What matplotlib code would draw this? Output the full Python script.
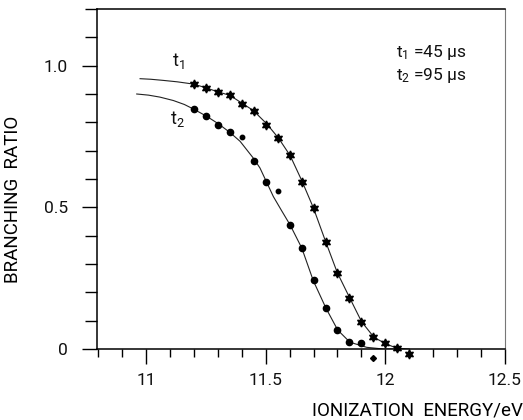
import numpy as np
import matplotlib
matplotlib.use('Agg')
import matplotlib.pyplot as plt
from matplotlib.ticker import MultipleLocator, FixedLocator

plt.rcParams['font.family'] = ['Roboto', 'DejaVu Sans']
plt.rcParams['mathtext.default'] = 'regular'
plt.rcParams['text.color'] = '#111111'

# measured points, t1 = 45 us (stars)
t1_x = [11.2, 11.25, 11.3, 11.35, 11.4, 11.45, 11.5, 11.55, 11.6, 11.65,
        11.7, 11.75, 11.8, 11.85, 11.9, 11.95, 12.0, 12.05, 12.1]
t1_y = [0.935, 0.921, 0.907, 0.895, 0.864, 0.841, 0.792, 0.744, 0.683, 0.591,
        0.497, 0.377, 0.270, 0.179, 0.095, 0.042, 0.023, 0.002, -0.018]

# measured points, t2 = 95 us (dots)
t2_x = [11.2, 11.25, 11.3, 11.35, 11.45, 11.5, 11.6, 11.65, 11.7, 11.75,
        11.8, 11.85, 11.9]
t2_y = [0.847, 0.821, 0.792, 0.766, 0.662, 0.588, 0.438, 0.356, 0.244, 0.144,
        0.067, 0.024, 0.022]
# the odd small ones
t2_small_x = [11.4, 11.55]
t2_small_y = [0.747, 0.556]
t2_low_x = [11.95]
t2_low_y = [-0.033]

# fitted curves
fit1_x = [10.975, 11.02, 11.072, 11.13, 11.198, 11.25, 11.295, 11.351, 11.40,
          11.448, 11.504, 11.553, 11.602, 11.651, 11.699, 11.748, 11.799,
          11.852, 11.901, 11.953, 12.003, 12.048, 12.1]
fit1_y = [0.954, 0.952, 0.948, 0.943, 0.935, 0.922, 0.909, 0.895, 0.868,
          0.842, 0.795, 0.745, 0.683, 0.594, 0.499, 0.385, 0.270,
          0.179, 0.096, 0.041, 0.018, 0.003, 0.0]
fit2_x = [10.961, 11.01, 11.058, 11.114, 11.16, 11.198, 11.254, 11.302, 11.351,
          11.393, 11.448, 11.476, 11.532, 11.566, 11.602, 11.651, 11.699,
          11.752, 11.801, 11.852, 11.922, 11.992, 12.05]
fit2_y = [0.900, 0.896, 0.889, 0.877, 0.863, 0.847, 0.821, 0.795, 0.764,
          0.733, 0.674, 0.639, 0.538, 0.489, 0.438, 0.356, 0.241,
          0.144, 0.067, 0.024, 0.006, 0.0, 0.0]

fig = plt.figure(figsize=(5.23, 4.2), dpi=100)
ax = fig.add_axes([0.1855, 0.169, 0.78, 0.8096])

ax.plot(fit1_x, fit1_y, color='#222222', lw=0.8)
ax.plot(fit2_x, fit2_y, color='#222222', lw=0.8)
ax.plot(t1_x, t1_y, linestyle='', marker=(6, 1, 0), ms=6.5, color='black', clip_on=False)
ax.plot(t2_x, t2_y, linestyle='', marker='o', ms=4.5, color='black', clip_on=False)
ax.plot(t2_small_x, t2_small_y, linestyle='', marker='o', ms=3.2, color='black')
ax.plot(t2_low_x, t2_low_y, linestyle='', marker='D', ms=3, color='black', clip_on=False)

ax.set_xlim(10.795, 12.5)
ax.set_ylim(0, 1.2)

ax.xaxis.set_major_locator(FixedLocator([11, 11.5, 12, 12.5]))
ax.xaxis.set_minor_locator(MultipleLocator(0.1))
ax.yaxis.set_major_locator(FixedLocator([0, 0.5, 1.0]))
ax.yaxis.set_minor_locator(MultipleLocator(0.1))
ax.set_xticklabels(['11', '11.5', '12', '12.5'])
ax.set_yticklabels(['0', '0.5', '1.0'])

ax.tick_params(axis='x', which='major', direction='out', length=11, width=1, pad=6,
               labelsize=12.5, labelcolor='#111111')
ax.tick_params(axis='x', which='minor', direction='out', length=6, width=1)
ax.tick_params(axis='y', which='major', direction='out', length=11, width=1, pad=10,
               labelsize=12.5, labelcolor='#111111')
ax.tick_params(axis='y', which='minor', direction='out', length=9, width=1)

for s in ['left', 'bottom', 'top']:
    ax.spines[s].set_linewidth(1.1)
ax.spines['right'].set_linewidth(0.8)
ax.spines['right'].set_color('#777777')

ax.set_ylabel('BRANCHING  RATIO', fontsize=13.5)
ax.yaxis.set_label_coords(-0.183, 0.44)
ax.set_xlabel('IONIZATION  ENERGY/eV', fontsize=13.5, ha='right')
ax.xaxis.set_label_coords(1.045, -0.155)

ax.text(11.11, 1.0, 't$_1$', fontsize=13)
ax.text(11.10, 0.795, 't$_2$', fontsize=13)
ax.text(12.045, 1.03, 't$_1$ =45 \u03bcs', fontsize=12.5)
ax.text(12.045, 0.95, 't$_2$ =95 \u03bcs', fontsize=12.5)

fig.savefig('out.png', dpi=100)
